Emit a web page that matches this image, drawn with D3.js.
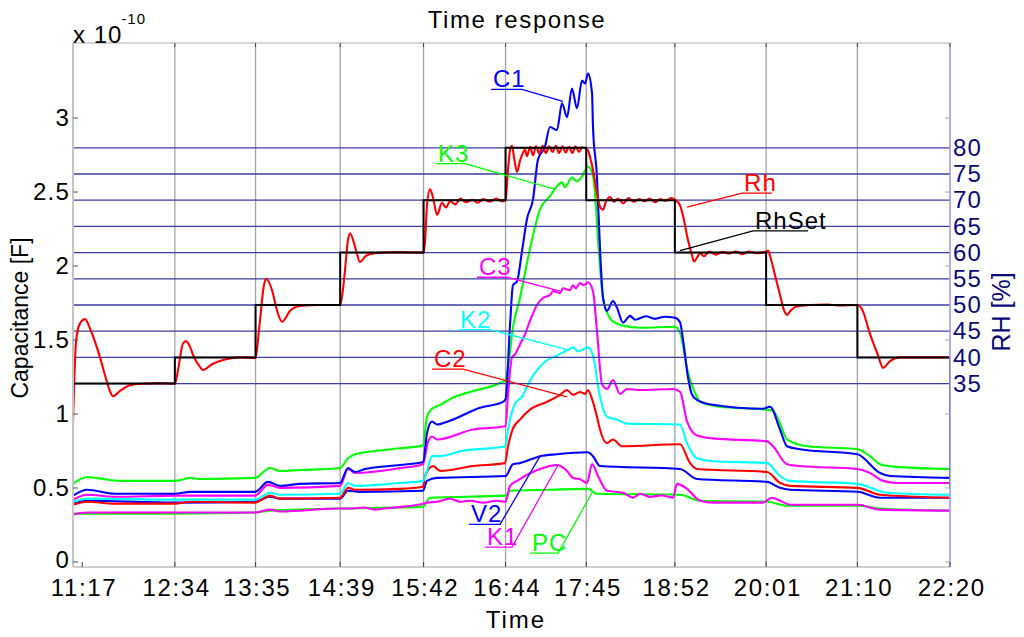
<!DOCTYPE html>
<html><head><meta charset="utf-8">
<script src="https://cdn.jsdelivr.net/npm/d3@7/dist/d3.min.js"></script>
<style>
body{margin:0;background:#fff;}
text{font-family:"Liberation Sans",Arial,Helvetica,sans-serif;}
</style></head><body>
<svg id="chart" width="1024" height="637"></svg>
<script>
// ---------- DATA (time = elapsed minutes since start of record) ----------
const timeTickLabels = ["11:17","12:34","13:35","14:39","15:42","16:44","17:45","18:52","20:01","21:10","22:20"];
const timeTickValues = [7, 77, 138, 202, 265, 327, 388, 455, 524, 593, 663];
const capTicks = [0, 0.5, 1, 1.5, 2, 2.5, 3];          // x 1e-10 F
const rhTicks = [35, 40, 45, 50, 55, 60, 65, 70, 75, 80]; // %
const rhLevels = [35, 40, 45, 50, 55, 60, 65, 70, 75, 80];

const rhSetT = [0, 77, 138, 202, 265, 327, 388, 455, 524, 593, 663];
const rhSetV = [35, 40, 50, 60, 70, 80, 70, 60, 50, 40, 15];

const Rh = [[0,27.5],[2.3,43],[5.3,46.5],[9.1,47.3],[12.9,45.5],[16.6,43],[20.4,40],[24.2,36.6],[28,33.5],[30.2,32.6],[35.5,33.6],[43.1,34.7],[54.4,35.0],[65.8,35.1],[77.1,35.0],
 [79.4,37.6],[83.2,42.7],[85.4,43.1],[88.5,42],[90.7,40.5],[96,38.2],[98.3,37.6],[105.1,38.7],[114.9,39.6],[126.3,40.0],[138,39.9],
 [140.6,45.2],[144.4,53.8],[145.9,55.0],[150.4,52.9],[154.2,49.0],[158,46.8],[164.1,48.9],[171.6,49.8],[186.7,50.0],[202,50.0],
 [204.9,54.8],[207.9,62.4],[209.4,63.7],[213.9,60.5],[217,58.2],[221.5,59.4],[228.3,59.9],[247.2,60.1],[265,60.0],
 [266.1,62],[267.6,69],[269.9,72.1],[272.2,70.5],[275.2,67.2],[279,69.5],[282,68.6],[285,69.8],[289,69.2],[293,70.3],[297,69.6],[302,70.1],[306,69.5],[310,70.2],[315,69.7],[320,70.3],[324,69.8],[327,70],
 [328.9,76],[330.4,79.6],[331.9,80.4],[333.5,78],[335.7,75.4],[337.9,77.5],[339.4,78.6],[341.7,79.6],[343.2,78.4],[345.5,80.2],[347.8,78.6],[350,80.3],[352.5,78.9],[355,80.4],[357.5,79],[360,80.3],[362.5,79.2],[365,80.4],[367.5,79],[370,80.3],[372.5,79.1],[375,80.2],[377.5,79],[380,80.3],[382.5,79.2],[385,80.1],[387.8,79.8],[389.3,79.5],
 [390.9,78.2],[393.1,75.8],[396.1,71.4],[398.4,68.8],[400.7,68.2],[403,69.8],[406,70.6],[409,69.7],[412,70.3],[416,69.4],[420,70.4],[424,69.7],[428,70.2],[432,69.8],[436,70.3],[440,69.6],[444,70.2],[448,69.9],[452,70.4],[455.1,70.1],
 [458.9,69.0],[461.2,67],[464.9,62.4],[468,59.5],[469.5,58.3],[471.7,59.0],[474,59.9],[477,59.3],[481,60.2],[486,59.6],[491,60.1],[496,59.8],[501,60.2],[506,59.7],[511,60.2],[516,59.9],[521,60.0],[524.7,60.3],[525.4,60.4],
 [526.9,59.4],[530.7,55.7],[534.5,51.9],[537.5,49.0],[539.8,48.1],[542.1,48.8],[545.8,49.6],[549.6,49.8],[557.2,50.0],[570,50.1],[580,49.9],[593,50.0],
 [596.5,49.2],[602.5,44.5],[608.6,40.4],[612.4,38.0],[617.7,39.3],[625.2,40.0],[640,40.0],[663,40.0]];

const K3 = [[0,0.528],[10.6,0.574],[28,0.554],[35.5,0.548],[77.1,0.548],[88.5,0.568],[96,0.561],[137.6,0.568],[148.9,0.635],[156.5,0.615],[171.6,0.621],[201.9,0.635],[207.9,0.701],[213.2,0.728],[220.8,0.741],[247.2,0.768],[264.6,0.788],[267.6,0.982],[271.4,1.035],[277.5,1.062],[288.8,1.116],[300.1,1.149],[322.8,1.209],[327,1.229],[328.9,1.316],[332.6,1.583],[337.9,1.784],[345.5,2.118],[353.1,2.385],[360.6,2.472],[365.9,2.539],[369.7,2.565],[372,2.532],[377.2,2.598],[381,2.572],[384.8,2.605],[389.3,2.672],[392.4,2.632],[394.6,2.498],[396.9,2.184],[400.7,1.784],[407.5,1.630],[415.8,1.597],[428.7,1.583],[455.1,1.590],[458.9,1.55],[464.9,1.282],[471.7,1.116],[474,1.082],[489.1,1.049],[523.9,1.029],[529.2,1.022],[534.5,0.935],[539.8,0.828],[554.9,0.782],[593,0.762],[602.5,0.715],[610.1,0.661],[625.2,0.641],[663,0.628]];

const C1 = [[0,0.448],[10.6,0.488],[31.8,0.461],[77.1,0.461],[88.5,0.474],[137.6,0.474],[147.4,0.541],[156.5,0.514],[171.6,0.528],[201.9,0.534],[207.9,0.635],[213.2,0.608],[220.8,0.628],[247.2,0.655],[264.6,0.675],[267.6,0.868],[271.4,0.949],[275.2,0.929],[285,0.955],[307.7,1.042],[325.1,1.082],[327,1.1],[330.4,1.603],[332.6,1.87],[335.7,1.897],[339.4,2.098],[343.2,2.318],[347.8,2.452],[351.5,2.719],[356.8,2.806],[360.6,2.939],[365.9,2.919],[369.7,3.10],[373.5,3.006],[377.2,3.20],[381,3.066],[384.8,3.253],[387.1,3.233],[389.3,3.30],[392.4,3.166],[393.1,2.939],[396.1,2.605],[398.4,2.118],[400.7,1.784],[403.7,1.697],[408.2,1.764],[411.3,1.717],[415.8,1.617],[421.1,1.663],[425,1.637],[433,1.66],[440,1.643],[447,1.657],[455.1,1.65],[458.9,1.62],[461.2,1.5],[464.9,1.25],[468,1.13],[471.7,1.096],[483.8,1.062],[521.6,1.035],[526.9,1.049],[534.5,0.895],[539.8,0.782],[549.6,0.762],[593,0.728],[610.1,0.601],[617.7,0.581],[663,0.568]];

const C3 = [[0,0.421],[10.6,0.454],[31.8,0.441],[77.1,0.448],[137.6,0.448],[147.4,0.521],[156.5,0.501],[201.9,0.514],[207.9,0.628],[213.2,0.601],[247.2,0.634],[264.6,0.661],[268,0.8],[271.4,0.848],[275.2,0.828],[302.4,0.895],[325.1,0.915],[327,0.92],[328.9,1.136],[331.9,1.383],[334.2,1.403],[337.9,1.470],[341.7,1.537],[345.5,1.630],[350.8,1.737],[355.3,1.784],[360.6,1.804],[362.9,1.830],[368.2,1.817],[370.4,1.850],[375.7,1.837],[378,1.870],[380,1.85],[383.3,1.884],[386,1.87],[389.3,1.890],[393.1,1.830],[396.1,1.563],[399.9,1.202],[403.7,1.169],[408.2,1.229],[413.5,1.136],[418.8,1.169],[428.7,1.162],[453.6,1.169],[458.9,1.15],[464.2,0.95],[471.7,0.855],[483.8,0.835],[524.7,0.815],[529.2,0.782],[539.8,0.661],[549.6,0.648],[593,0.628],[602.5,0.601],[612.4,0.548],[622.9,0.534],[663,0.534]];

const K2 = [[0,0.407],[10.6,0.428],[77.1,0.421],[137.6,0.421],[148.9,0.468],[156.5,0.454],[201.9,0.461],[207.9,0.534],[213.2,0.514],[247.2,0.534],[264.6,0.548],[267.6,0.615],[271.4,0.715],[277.5,0.715],[292.6,0.748],[327,0.782],[328.9,0.895],[334.2,1.069],[339.4,1.116],[343.2,1.182],[347,1.249],[350.8,1.296],[358.3,1.363],[365.9,1.396],[373.5,1.430],[378,1.45],[381.8,1.423],[389.3,1.450],[393.1,1.396],[398.4,1.116],[403.7,0.982],[411.3,0.962],[418.8,0.935],[458.9,0.929],[464.2,0.802],[471.7,0.701],[483.8,0.681],[524.7,0.668],[534.5,0.581],[542.1,0.548],[593,0.528],[615.4,0.468],[663,0.454]];

const C2 = [[0,0.387],[10.6,0.407],[31.8,0.394],[77.1,0.394],[88.5,0.407],[137.6,0.401],[148.9,0.448],[156.5,0.428],[201.9,0.434],[207.9,0.501],[213.2,0.488],[247.2,0.494],[264.6,0.508],[266.1,0.581],[272.2,0.648],[277.5,0.615],[302.4,0.648],[326.6,0.668],[328.9,0.782],[332.6,0.902],[337.9,0.962],[345.5,1.029],[358.3,1.082],[368.2,1.129],[373.5,1.162],[378,1.129],[383.3,1.149],[387.1,1.136],[389.3,1.162],[392.4,1.1],[396.1,0.982],[398.4,0.895],[403.7,0.802],[408.2,0.828],[415,0.782],[458.9,0.795],[466.5,0.668],[471.7,0.628],[524.7,0.608],[534.5,0.534],[542.1,0.514],[593,0.501],[610.1,0.454],[663,0.434]];

const V2 = [[0,0.394],[10.6,0.414],[77.1,0.401],[137.6,0.407],[148.9,0.441],[156.5,0.428],[201.9,0.428],[207.9,0.481],[217,0.474],[264.6,0.481],[267.6,0.548],[275.2,0.568],[327,0.581],[332.6,0.661],[337.9,0.668],[353.1,0.715],[365.9,0.728],[389.3,0.741],[393.1,0.715],[398.4,0.648],[458.9,0.628],[471.7,0.561],[524.7,0.541],[534.5,0.501],[542.1,0.488],[593,0.474],[610.1,0.434],[663,0.434]];

const K1 = [[0,0.321],[10.6,0.334],[77.1,0.334],[137.6,0.334],[148.9,0.354],[156.5,0.341],[201.9,0.361],[210,0.361],[220,0.368],[228,0.354],[235,0.361],[250,0.374],[264.6,0.394],[267.6,0.401],[275.2,0.407],[285,0.428],[292.6,0.407],[300,0.414],[310,0.401],[320,0.414],[327,0.407],[330.4,0.514],[335.7,0.548],[353.1,0.628],[365.9,0.655],[373.5,0.615],[378,0.568],[383,0.56],[388.6,0.534],[392.4,0.661],[396.9,0.581],[403.7,0.481],[415.8,0.468],[423.4,0.434],[428.7,0.461],[436,0.44],[445,0.45],[453.6,0.434],[456.6,0.528],[464.2,0.494],[474,0.414],[483.8,0.401],[521.6,0.401],[528.4,0.434],[534.5,0.414],[542.1,0.387],[593,0.387],[610.1,0.354],[663,0.347]];

const PC = [[0,0.327],[77.1,0.327],[137.6,0.334],[148.9,0.347],[201.9,0.361],[264.6,0.374],[269.9,0.434],[327,0.448],[330.4,0.481],[360.6,0.488],[389.3,0.494],[396.1,0.461],[458.9,0.454],[474,0.414],[524.7,0.407],[539.8,0.381],[593,0.381],[610.1,0.361],[663,0.347]];

const capSeries = [
  {name:"PC", color:"#00ff00", data:PC},
  {name:"K1", color:"#ff00ff", data:K1},
  {name:"V2", color:"#0000ff", data:V2},
  {name:"C2", color:"#ff0000", data:C2},
  {name:"K2", color:"#00ffff", data:K2},
  {name:"C3", color:"#ff00ff", data:C3},
  {name:"K3", color:"#00ff00", data:K3},
  {name:"C1", color:"#0000ff", data:C1}
];

// annotation: label underline from x0..x1 at level y (capacitance units), leader to (tx,ty)
const annotations = [
  {text:"C1", color:"#0000ff", x0:316, x1:339.4, y:3.193, tx:370.4, ty:3.113},
  {text:"K3", color:"#00ff00", x0:274.4, x1:296.4, y:2.692, tx:364.4, ty:2.518},
  {text:"Rh", color:"#ff0000", x0:505.8, x1:528.4, y:2.492, tx:464.2, ty:2.398},
  {text:"RhSet", color:"#000000", x0:514.1, x1:555.7, y:2.238, tx:458.9, ty:2.104},
  {text:"C3", color:"#ff00ff", x0:305.4, x1:328.1, y:1.924, tx:368.2, ty:1.830},
  {text:"K2", color:"#00ffff", x0:291.1, x1:315.3, y:1.570, tx:375.7, ty:1.430},
  {text:"C2", color:"#ff0000", x0:271.4, x1:294.8, y:1.303, tx:373.5, ty:1.116},
  {text:"V2", color:"#0000ff", x0:299.4, x1:322.8, y:0.254, tx:353.1, ty:0.715},
  {text:"K1", color:"#ff00ff", x0:311.5, x1:331.9, y:0.100, tx:366.7, ty:0.655},
  {text:"PC", color:"#00ff00", x0:345.5, x1:366.7, y:0.060, tx:392.4, ty:0.468}
];

// ---------- LAYOUT ----------
const L = 73, R = 950, T = 43, B = 567;
const svg = d3.select("#chart");
const x = d3.scaleLinear().domain([0, 663]).range([L, R]);
const yC = d3.scaleLinear().domain([-0.034, 3.507]).range([B, T]);
const yR = d3.scaleLinear().domain([0, 100]).range([B, T]);

svg.append("defs").append("clipPath").attr("id","clip")
  .append("rect").attr("x",L).attr("y",T).attr("width",R-L).attr("height",B-T);

// vertical grid lines
svg.append("g").selectAll("line").data(timeTickValues.slice(1)).join("line")
  .attr("x1", d=>x(d)).attr("x2", d=>x(d)).attr("y1", T).attr("y2", B)
  .attr("stroke", "#a3a3a3").attr("stroke-width", 1.3);

const plot = svg.append("g").attr("clip-path","url(#clip)");
const lineC = d3.line().x(d=>x(d[0])).y(d=>yC(d[1])).curve(d3.curveMonotoneX);
const lineR = d3.line().x(d=>x(d[0])).y(d=>yR(d[1])).curve(d3.curveMonotoneX);

plot.selectAll("path.cap").data(capSeries).join("path").attr("class","cap")
  .attr("d", d=>lineC(d.data)).attr("fill","none").attr("stroke", d=>d.color)
  .attr("stroke-width", 2.1).attr("stroke-linejoin","round");

// RH level lines
plot.selectAll("line.lvl").data(rhLevels).join("line").attr("class","lvl")
  .attr("x1", L).attr("x2", R).attr("y1", d=>yR(d)).attr("y2", d=>yR(d))
  .attr("stroke", "#3c3ca6").attr("stroke-width", 1.3);

// Rh and RhSet
plot.append("path").attr("d", lineR(Rh)).attr("fill","none")
  .attr("stroke","#ff0000").attr("stroke-width",2.1).attr("stroke-linejoin","round");
const setPts = rhSetT.map((t,i)=>[t, rhSetV[i]]);
plot.append("path")
  .attr("d", d3.line().x(d=>x(d[0])).y(d=>yR(d[1])).curve(d3.curveStepAfter)(setPts))
  .attr("fill","none").attr("stroke","#000").attr("stroke-width",2);

// frame
svg.append("line").attr("x1",L).attr("x2",R).attr("y1",T).attr("y2",T).attr("stroke","#d6d6d6").attr("stroke-width",2);
svg.append("line").attr("x1",L).attr("x2",R).attr("y1",B).attr("y2",B).attr("stroke","#cfcfcf").attr("stroke-width",2);
svg.append("line").attr("x1",L).attr("x2",L).attr("y1",T).attr("y2",B).attr("stroke","#c4c4c4").attr("stroke-width",2);
svg.append("line").attr("x1",R).attr("x2",R).attr("y1",T).attr("y2",B).attr("stroke","#a8a8ff").attr("stroke-width",1.5);

// small tick marks
const tk = svg.append("g");
tk.selectAll("l1").data(capTicks).join("line").attr("x1",L).attr("x2",L+5).attr("y1",d=>yC(d)).attr("y2",d=>yC(d)).attr("stroke","#555").attr("stroke-width",1);
tk.selectAll("l2").data(capTicks).join("line").attr("x1",R-5).attr("x2",R).attr("y1",d=>yC(d)).attr("y2",d=>yC(d)).attr("stroke","#aaa").attr("stroke-width",1);
tk.selectAll("l3").data(timeTickValues).join("line").attr("x1",d=>x(d)).attr("x2",d=>x(d)).attr("y1",B).attr("y2",B-5).attr("stroke","#444").attr("stroke-width",1);
tk.selectAll("l4").data(timeTickValues.slice(1)).join("line").attr("x1",d=>x(d)).attr("x2",d=>x(d)).attr("y1",T).attr("y2",T+4).attr("stroke","#444").attr("stroke-width",1);

// axes (labels)
const fs = "24px";
const gx = svg.append("g").attr("transform",`translate(0,${B})`)
  .call(d3.axisBottom(x).tickValues(timeTickValues).tickFormat((d,i)=>timeTickLabels[i]).tickSize(0).tickPadding(12));
gx.select(".domain").remove();
gx.selectAll("text").attr("font-size",fs).attr("fill","#000").style("letter-spacing","1.6px")
  .attr("font-family",'"Liberation Sans",Arial,sans-serif').attr("dx","0.05em");

const gy = svg.append("g").attr("transform",`translate(${L},0)`)
  .call(d3.axisLeft(yC).tickValues(capTicks).tickFormat(d3.format("")).tickSize(0).tickPadding(3));
gy.select(".domain").remove();
gy.selectAll("text").attr("font-size",fs).attr("fill","#000").style("letter-spacing","1.2px")
  .attr("font-family",'"Liberation Sans",Arial,sans-serif');
gy.selectAll(".tick").filter(d=>d===0).select("text").attr("dy","0.22em");

const gr = svg.append("g").attr("transform",`translate(${R},0)`)
  .call(d3.axisRight(yR).tickValues(rhTicks).tickSize(0).tickPadding(3));
gr.select(".domain").remove();
gr.selectAll("text").attr("font-size",fs).attr("fill","#0a0a7a").style("letter-spacing","1.2px")
  .attr("font-family",'"Liberation Sans",Arial,sans-serif');

// titles
svg.append("text").attr("x",517).attr("y",28).attr("text-anchor","middle").attr("font-size","24px")
  .style("letter-spacing","1.6px").text("Time response");
svg.append("text").attr("x",516).attr("y",628).attr("text-anchor","middle").attr("font-size","24px")
  .style("letter-spacing","2px").text("Time");
svg.append("text").attr("transform","translate(28,318) rotate(-90)").attr("text-anchor","middle")
  .attr("font-size","23px").text("Capacitance [F]");
svg.append("text").attr("transform","translate(1010,312) rotate(-90)").attr("text-anchor","middle")
  .attr("font-size","25px").attr("fill","#0a0a7a").text("RH [%]");
const ex = svg.append("text").attr("x",73).attr("y",43).attr("font-size","24px").style("letter-spacing","1px");
ex.append("tspan").text("x 10");
ex.append("tspan").attr("font-size","15px").attr("dy","-19").attr("dx","-1").text("-10");

// annotations
const an = svg.append("g");
annotations.forEach(a=>{
  const g = an.append("g");
  const uy = yC(a.y);
  const fromX = a.tx > a.x1 ? a.x1 : a.x0;
  g.append("polyline")
    .attr("points", `${x(a.x0)},${uy} ${x(a.x1)},${uy} ${x(fromX)},${uy} ${x(a.tx)},${yC(a.ty)}`)
    .attr("fill","none").attr("stroke",a.color).attr("stroke-width",1.3);
  g.append("text").attr("x", x(a.x0)+2).attr("y", uy-2).attr("font-size","24px")
    .style("letter-spacing","1px").attr("fill",a.color).text(a.text);
});
</script>
</body></html>
